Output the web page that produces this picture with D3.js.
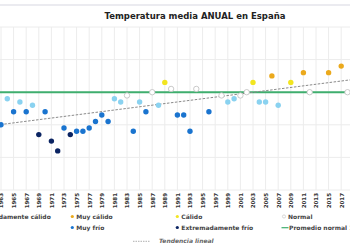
<!DOCTYPE html>
<html>
<head>
<meta charset="utf-8">
<script src="https://cdn.jsdelivr.net/npm/d3@7"></script>
<style>
  body { margin: 0; background: #fff; }
  svg { display: block; font-family: "DejaVu Sans", sans-serif; }
</style>
</head>
<body>
<div id="chart"></div>
<script>
// Years and anomalies (°C vs promedio normal)
const years = [1963, 1964, 1965, 1966, 1967, 1968, 1969, 1970, 1971, 1972,
  1973, 1974, 1975, 1976, 1977, 1978, 1979, 1980, 1981, 1982,
  1983, 1984, 1985, 1986, 1987, 1988, 1989, 1990, 1991, 1992,
  1993, 1994, 1996, 1998, 1999, 2000, 2001, 2002, 2003, 2004,
  2005, 2006, 2007, 2009, 2011, 2012, 2015, 2017, 2018];
const anomalies = [-0.50, -0.10, -0.30, -0.15, -0.30, -0.20, -0.65, -0.30, -0.75, -0.90,
  -0.55, -0.65, -0.60, -0.60, -0.55, -0.45, -0.35, -0.45, -0.10, -0.15,
  -0.05, -0.60, -0.15, -0.30, 0.00, -0.20, 0.15, 0.05, -0.35, -0.35,
  -0.60, 0.05, -0.30, -0.05, -0.15, -0.10, -0.05, 0.00, 0.15, -0.15,
  -0.15, 0.25, -0.20, 0.15, 0.30, 0.00, 0.30, 0.40, 0.00];
const classes = ["mf", "f", "mf", "f", "mf", "f", "ef", "mf", "ef", "ef",
  "mf", "ef", "mf", "mf", "mf", "mf", "mf", "mf", "f", "f",
  "n", "mf", "f", "mf", "n", "f", "c", "n", "mf", "mf",
  "mf", "n", "mf", "n", "f", "f", "n", "n", "c", "f",
  "f", "mc", "f", "c", "mc", "n", "mc", "mc", "n"];

const classKeys = ["ec", "mc", "c", "n", "f", "mf", "ef"];
const classNames = ["Extremadamente cálido", "Muy cálido", "Cálido", "Normal",
  "Frío", "Muy frío", "Extremadamente frío"];
const classColors = ["#e0321e", "#eba91c", "#f2e520", "#ffffff", "#8ad2f0", "#1a74cf", "#0b2462"];

const tickYears = d3.range(1963, 2018, 2);
const yTicks = [-1.5, -1.0, -0.5, 0, 0.5, 1.0];
const normalValue = 0;
const trendYears = [1961, 2018.5];
const trendValues = [-0.52, 0.19];

let width = 350;
let height = 250;
let margin = {top: 27, bottom: 60, left: 0, right: 0};

let svg = d3.select('#chart')
  .append('svg')
  .attr('width', width)
  .attr('height', height)
  .style('background', '#fff');

svg.append('rect')
  .attr('x', 0).attr('y', 4).attr('width', width).attr('height', 2)
  .attr('fill', '#ebebf0');

let xScale = d3.scaleLinear()
  .domain([1963, 2018])
  .range([1, 347.5]);

let yScale = d3.scaleLinear()
  .domain([-1.5, 1.0])
  .range([height - margin.bottom - 0, margin.top]);

const color = d3.scaleOrdinal().domain(classKeys).range(classColors);

// gridlines
svg.append('g')
  .selectAll('line')
  .data(yTicks)
  .join('line')
  .attr('x1', 0).attr('x2', width)
  .attr('y1', d => yScale(d)).attr('y2', d => yScale(d))
  .attr('stroke', '#ececec').attr('stroke-width', 1);

svg.append('g')
  .selectAll('line')
  .data(tickYears)
  .join('line')
  .attr('x1', d => xScale(d)).attr('x2', d => xScale(d))
  .attr('y1', yScale(1.0)).attr('y2', yScale(-1.5))
  .attr('stroke', '#ececec').attr('stroke-width', 1);

// x axis labels
let xAxis = svg.append('g')
  .attr('transform', `translate(0, ${yScale(-1.5)})`)
  .call(d3.axisBottom(xScale).tickValues(tickYears).tickFormat(d3.format('d')).tickSize(0))
  .call(g => g.select('.domain').remove());
xAxis.selectAll('text')
  .attr('transform', 'rotate(-90)')
  .attr('x', -3).attr('y', 0).attr('dy', '0.35em')
  .style('text-anchor', 'end')
  .style('font-family', '"DejaVu Sans", sans-serif')
  .style('font-size', '5.5px')
  .style('font-weight', 'bold')
  .attr('fill', '#333');

// promedio normal
svg.append('line')
  .attr('x1', 0).attr('x2', width)
  .attr('y1', yScale(normalValue)).attr('y2', yScale(normalValue))
  .attr('stroke', '#3fae6e').attr('stroke-width', 2);

// trend line
svg.append('path')
  .datum(trendYears.map((y, i) => [y, trendValues[i]]))
  .attr('fill', 'none')
  .attr('stroke', '#8a8a8a')
  .attr('stroke-width', 1)
  .attr('stroke-dasharray', '2.5,1.5')
  .attr('d', d3.line().x(d => xScale(d[0])).y(d => yScale(d[1])));

// points
svg.append('g')
  .selectAll('circle')
  .data(years.map((y, i) => ({year: y, v: anomalies[i], c: classes[i]})))
  .join('circle')
  .attr('cx', d => xScale(d.year))
  .attr('cy', d => yScale(d.v))
  .attr('r', 2.7)
  .attr('fill', d => color(d.c))
  .attr('stroke', d => d.c === 'n' ? '#bdbdbd' : 'none')
  .attr('stroke-width', 0.8);

// title
svg.append('text')
  .attr('x', 195).attr('y', 19)
  .attr('text-anchor', 'middle')
  .style('font-size', '8.5px')
  .style('font-weight', 'bold')
  .attr('fill', '#222')
  .text('Temperatura media ANUAL en España');

// legend
const legCols = [-33.5, 72.3, 177.3, 284];
const legRows = [216.5, 227.5];
const legendOrder = ["ec", "mc", "c", "n", "f", "mf", "ef"];
const legend = svg.append('g');
legendOrder.forEach((k, i) => {
  const col = i < 4 ? i : i - 4;
  const row = i < 4 ? 0 : 1;
  const cx = legCols[col], cy = legRows[row];
  legend.append('circle')
    .attr('cx', cx).attr('cy', cy).attr('r', 1.6)
    .attr('fill', color(k))
    .attr('stroke', k === 'n' ? '#bdbdbd' : 'none')
    .attr('stroke-width', 0.6);
  legend.append('text')
    .attr('x', cx + 4).attr('y', cy).attr('dy', '0.35em')
    .style('font-size', '6px').style('font-weight', 'bold')
    .attr('fill', '#444')
    .text(classNames[classKeys.indexOf(k)]);
});
legend.append('line')
  .attr('x1', 281.5).attr('x2', 288.5).attr('y1', 227.7).attr('y2', 227.7)
  .attr('stroke', '#3fae6e').attr('stroke-width', 1.2);
legend.append('text')
  .attr('x', 289).attr('y', 227.7).attr('dy', '0.35em')
  .style('font-size', '6px').style('font-weight', 'bold')
  .attr('fill', '#444')
  .text('Promedio normal 1981-2010');
legend.append('line')
  .attr('x1', 133).attr('x2', 150).attr('y1', 241.3).attr('y2', 241.3)
  .attr('stroke', '#9a9a9a').attr('stroke-width', 0.8)
  .attr('stroke-dasharray', '1.5,1');
legend.append('text')
  .attr('x', 159).attr('y', 241.3).attr('dy', '0.35em')
  .style('font-size', '6px').style('font-weight', 'bold').style('font-style', 'italic')
  .attr('fill', '#666')
  .text('Tendencia lineal');
</script>
</body>
</html>
